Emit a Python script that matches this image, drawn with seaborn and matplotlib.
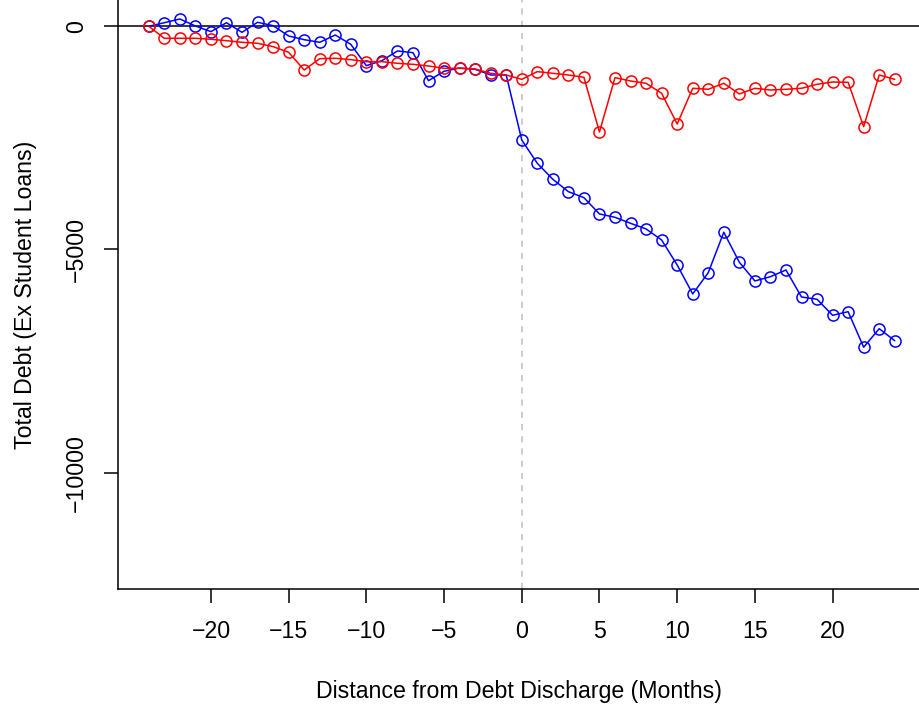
import numpy as np
import pandas as pd
import matplotlib
matplotlib.use('Agg')
import matplotlib.pyplot as plt
import seaborn as sns

# months relative to debt discharge
months = list(range(-24, 25))

# blue series
blue_debt = [0, 80, 164, 7, -120, 80, -135, 90, 14, -217, -300, -359, -195, -404,
             -882, -770, -553, -591, -1218, -1008, -934, -964, -1091, -1091,
             -2547, -3069, -3427, -3705, -3839, -4204, -4279, -4413, -4540, -4787,
             -5347, -5996, -5519, -4614, -5286, -5705, -5609, -5459, -6064, -6115,
             -6474, -6393, -7190, -6774, -7043]

# red series
red_debt = [0, -269, -269, -269, -291, -322, -359, -381, -456, -583, -979, -725,
            -717, -747, -792, -792, -829, -852, -889, -941, -941, -956, -1053, -1091,
            -1188, -1016, -1053, -1091, -1143, -2368, -1150, -1225, -1277, -1501,
            -2189, -1389, -1411, -1277, -1516, -1389, -1427, -1411, -1389, -1299,
            -1248, -1255, -2249, -1091, -1188]

x_ticks = [-20, -15, -10, -5, 0, 5, 10, 15, 20]
y_ticks = [0, -5000, -10000]

sns.set_style('white')
plt.rcParams['font.family'] = ['Liberation Sans', 'DejaVu Sans']
plt.rcParams['text.color'] = 'black'
plt.rcParams['axes.labelcolor'] = 'black'

fig = plt.figure(figsize=(9.19, 7.04), dpi=100)
ax = fig.add_axes([118.3 / 919, (704 - 589.3) / 704, (919 - 118.3) / 919, 589.3 / 704])

ax.axvline(0, color='#BEBEBE', linestyle=(0, (4, 4)), linewidth=1.1, zorder=1)
ax.axhline(0, color='black', linewidth=1.1, zorder=1)

df_blue = pd.DataFrame({'month': months, 'debt': blue_debt})
df_red = pd.DataFrame({'month': months, 'debt': red_debt})
sns.lineplot(data=df_blue, x='month', y='debt', ax=ax, color='blue', marker='o',
             markersize=8, markerfacecolor='none', markeredgecolor='blue',
             markeredgewidth=1.1, linewidth=1.1, zorder=2)
sns.lineplot(data=df_red, x='month', y='debt', ax=ax, color='red', marker='o',
             markersize=8, markerfacecolor='none', markeredgecolor='red',
             markeredgewidth=1.1, linewidth=1.1, zorder=3)

ax.set_xlim(-25.96, 25.56)
ax.set_ylim(-12612, 589)
ax.set_xticks(x_ticks)
ax.set_yticks(y_ticks)
ax.set_yticklabels([str(v).replace('-', '\u2212') for v in y_ticks], rotation=90, va='center')
ax.set_xticklabels([str(v).replace('-', '\u2212') for v in x_ticks])
ax.tick_params(axis='both', direction='out', length=10, width=1.1, labelsize=16.7,
               colors='black', labelcolor='black', pad=12, left=True, bottom=True)

for side in ['top', 'right']:
    ax.spines[side].set_visible(False)
for side in ['left', 'bottom']:
    ax.spines[side].set_color('black')
    ax.spines[side].set_linewidth(1.1)

ax.set_xlabel('Distance from Debt Discharge (Months)', fontsize=16.7, labelpad=27, color='black')
ax.set_ylabel('Total Debt (Ex Student Loans)', fontsize=16.7, labelpad=20, color='black')

fig.savefig('out.png', dpi=100)
